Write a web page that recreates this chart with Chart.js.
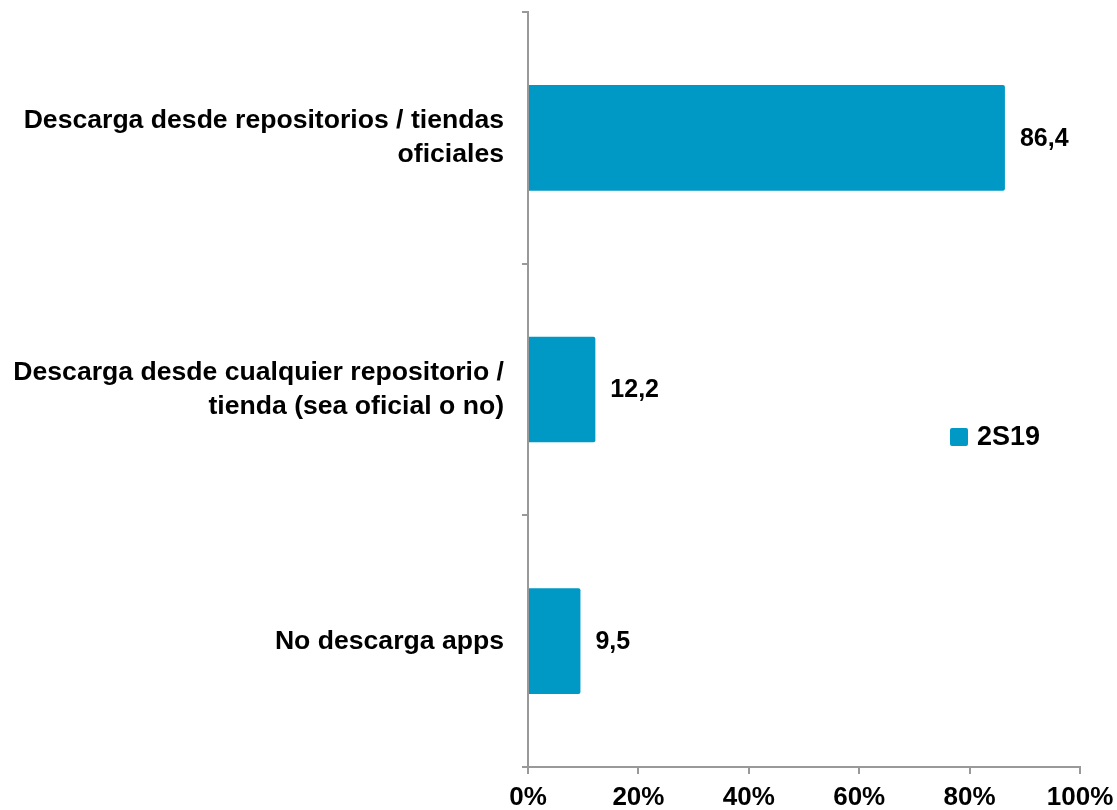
<!DOCTYPE html>
<html>
<head>
<meta charset="utf-8">
<script src="https://cdn.jsdelivr.net/npm/chart.js@4/dist/chart.umd.min.js"></script>
<style>
  html, body { margin: 0; padding: 0; background: #fff; }
  #wrap { width: 1117px; height: 810px; }
</style>
</head>
<body>
<div id="wrap"><canvas id="chart"></canvas></div>
<script>
const FONT_FAMILY = "'Liberation Sans', Arial, sans-serif";
const AXIS_COLOR = '#999999';
const BAR_COLOR = '#0099c6';

const categories = [
  ['Descarga desde repositorios / tiendas', 'oficiales'],
  ['Descarga desde cualquier repositorio /', 'tienda (sea oficial o no)'],
  ['No descarga apps']
];
const seriesLabel = '2S19';
const values = [86.4, 12.2, 9.5];
const xTicks = [0, 20, 40, 60, 80, 100];

// value labels next to each bar, comma decimal
const valueLabels = {
  id: 'valueLabels',
  afterDatasetsDraw(chart) {
    const ctx = chart.ctx;
    const meta = chart.getDatasetMeta(0);
    ctx.save();
    ctx.font = 'bold 25px ' + FONT_FAMILY;
    ctx.fillStyle = '#000';
    ctx.textAlign = 'left';
    ctx.textBaseline = 'middle';
    meta.data.forEach((bar, i) => {
      ctx.fillText(values[i].toFixed(1).replace('.', ','), bar.x + 15, bar.y + 1);
    });
    ctx.restore();
  }
};

// single-entry legend on the right side
const sideLegend = {
  id: 'sideLegend',
  afterDraw(chart) {
    const ctx = chart.ctx;
    const x = 950, y = 428, s = 18;
    ctx.save();
    ctx.fillStyle = BAR_COLOR;
    ctx.beginPath();
    ctx.roundRect(x, y, s, s, 2);
    ctx.fill();
    ctx.font = 'bold 27px ' + FONT_FAMILY;
    ctx.fillStyle = '#000';
    ctx.textAlign = 'left';
    ctx.textBaseline = 'middle';
    ctx.fillText(chart.data.datasets[0].label, x + s + 9, y + s / 2 + 1);
    ctx.restore();
  }
};

new Chart(document.getElementById('chart'), {
  type: 'bar',
  data: {
    labels: categories,
    datasets: [{
      label: seriesLabel,
      data: values,
      backgroundColor: BAR_COLOR,
      borderRadius: 2,
      borderSkipped: 'start',
      categoryPercentage: 1,
      barPercentage: 0.42
    }]
  },
  options: {
    indexAxis: 'y',
    responsive: true,
    maintainAspectRatio: false,
    animation: false,
    layout: { padding: { left: 0, right: 37, top: 12, bottom: 0 } },
    plugins: {
      legend: { display: false },
      tooltip: { enabled: false }
    },
    scales: {
      x: {
        min: 0,
        max: 100,
        afterBuildTicks(axis) {
          axis.ticks = xTicks.map(v => ({ value: v }));
        },
        afterFit(axis) {
          axis.height = 43;
          axis.paddingLeft = 0;
          axis.paddingRight = 0;
        },
        border: { color: AXIS_COLOR, width: 2 },
        grid: {
          drawOnChartArea: false,
          color: AXIS_COLOR,
          lineWidth: 2,
          tickLength: 7
        },
        ticks: {
          color: '#000',
          padding: 8,
          maxRotation: 0,
          font: { family: FONT_FAMILY, size: 26, weight: 'bold' },
          callback: v => v + '%'
        }
      },
      y: {
        afterFit(axis) {
          axis.width = 528;
          axis.paddingTop = 0;
          axis.paddingBottom = 0;
        },
        border: { color: AXIS_COLOR, width: 2 },
        grid: {
          offset: true,
          drawOnChartArea: false,
          color: AXIS_COLOR,
          lineWidth: 2,
          tickLength: 6
        },
        ticks: {
          color: '#000',
          padding: 18,
          font: { family: FONT_FAMILY, size: 26.6, weight: 'bold', lineHeight: 1.28 }
        }
      }
    }
  },
  plugins: [valueLabels, sideLegend]
});
</script>
</body>
</html>
